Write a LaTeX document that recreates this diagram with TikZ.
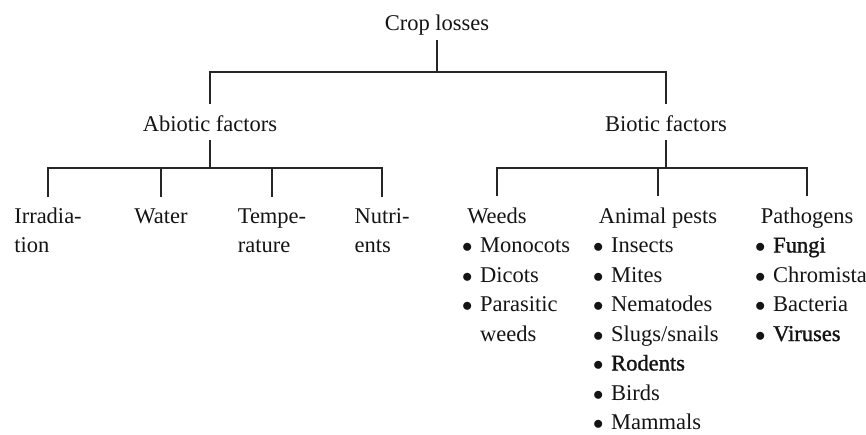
\documentclass[tikz,border=0pt]{standalone}
\usepackage{fontspec}
\setmainfont{Liberation Serif}
\newfontfamily\fbfont[FakeBold=1.2]{Liberation Serif}
\newcommand\itm[1]{\makebox[18pt][l]{$\bullet$}#1}
\begin{document}
\begin{tikzpicture}[x=1pt,y=-1pt,
  lbl/.style={anchor=base,inner sep=0pt,font=\fontsize{22.5}{29.5}\selectfont,text=black!92},
  lst/.style={anchor=base west,inner sep=0pt,font=\fontsize{22.5}{29.5}\selectfont,text=black!92},
  conn/.style={line width=1.3pt,draw=black!85}]
\useasboundingbox[fill=white] (0,0) rectangle (866,434);
% top levels
\node[lbl] (crop) at (437,30) {Crop losses};
\node[lbl] (abio) at (210,131) {Abiotic factors};
\node[lbl] (bio)  at (666,131) {Biotic factors};
% abiotic leaves
\node[lbl] (irr) at (48,223) {\begin{tabular}[t]{@{}l@{}}Irradia-\\tion\end{tabular}};
\node[lbl] (wat) at (161,223) {\begin{tabular}[t]{@{}l@{}}Water\end{tabular}};
\node[lbl] (tem) at (272,223) {\begin{tabular}[t]{@{}l@{}}Tempe-\\rature\end{tabular}};
\node[lbl] (nut) at (382,223) {\begin{tabular}[t]{@{}l@{}}Nutri-\\ents\end{tabular}};
% biotic headings
\node[lbl] (weeds)  at (497,223) {Weeds};
\node[lbl] (animal) at (658,223) {Animal pests};
\node[lbl] (patho)  at (807,223) {Pathogens};
% lists
\node[lst] (wlist) at (462,252.5) {\begin{tabular}[t]{@{}l@{}}\itm{Monocots}\\\itm{Dicots}\\\itm{Parasitic}\\\hspace*{18pt}weeds\end{tabular}};
\node[lst] (alist) at (593,252.5) {\begin{tabular}[t]{@{}l@{}}\itm{Insects}\\\itm{Mites}\\\itm{Nematodes}\\\itm{Slugs/snails}\\\itm{{\fbfont Rodents}}\\\itm{Birds}\\\itm{Mammals}\end{tabular}};
\node[lst] (plist) at (755,252.5) {\begin{tabular}[t]{@{}l@{}}\itm{{\fbfont Fungi}}\\\itm{Chromista}\\\itm{Bacteria}\\\itm{{\fbfont Viruses}}\end{tabular}};
% connectors level 1
\draw[conn] (crop.base |- 0,40) -- (crop.base |- 0,72);
\draw[conn] (abio.base |- 0,104) |- (bio.base |- 0,72) -- (bio.base |- 0,104);
% abiotic branch
\draw[conn] (abio.base |- 0,140) -- (abio.base |- 0,168);
\draw[conn] (irr.base |- 0,197) |- (nut.base |- 0,168) -- (nut.base |- 0,197);
\draw[conn] (wat.base |- 0,168) -- (wat.base |- 0,197);
\draw[conn] (tem.base |- 0,168) -- (tem.base |- 0,197);
% biotic branch
\draw[conn] (bio.base |- 0,140) -- (bio.base |- 0,168);
\draw[conn] (weeds.base |- 0,196) |- (patho.base |- 0,168) -- (patho.base |- 0,196);
\draw[conn] (animal.base |- 0,168) -- (animal.base |- 0,196);
\end{tikzpicture}
\end{document}
